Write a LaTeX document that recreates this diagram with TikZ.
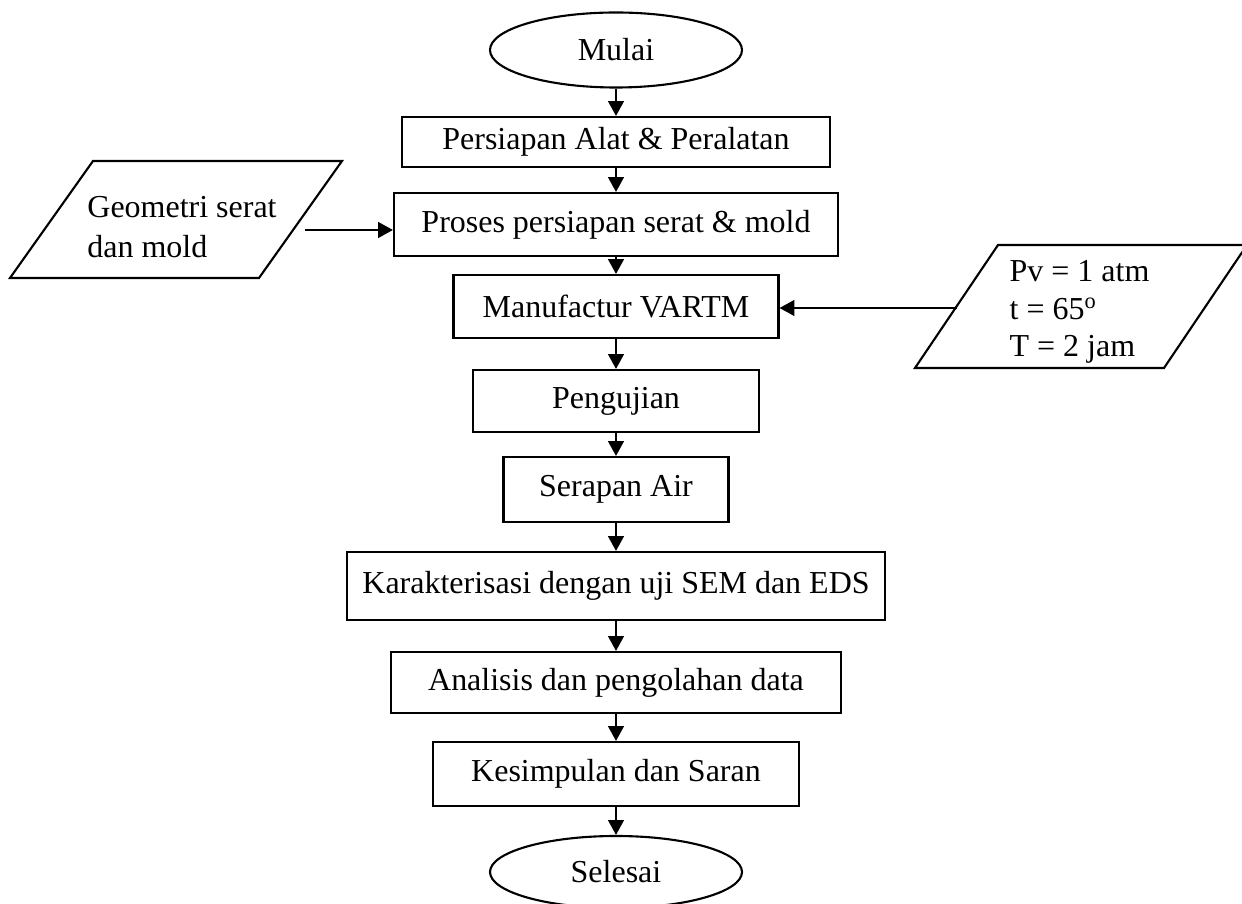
\documentclass[tikz,border=0pt]{standalone}
\usepackage{fontspec}
\setmainfont{Liberation Serif}
\usetikzlibrary{shapes,arrows.meta}

\begin{document}
\begin{tikzpicture}[
    font=\fontsize{18.2}{21}\selectfont,
    line width=1.2pt,
    stepbox/.style={draw, rectangle, minimum height=1.26cm},
    termnode/.style={draw, ellipse, minimum width=5.04cm, minimum height=1.5cm},
    datatext/.style={align=left, inner sep=0pt},
    arr/.style={-{Triangle[length=8.5pt,width=9pt]}}
  ]
  \useasboundingbox (0,0) rectangle (24.84,-18.08);
  \node[termnode] (mulai) at (12.32,-1.0) {Mulai};
  \node[stepbox, minimum width=8.56cm, minimum height=1.0cm] (alat) at (12.32,-2.84) {Persiapan Alat \& Peralatan};
  \node[stepbox, minimum width=8.88cm] (proses) at (12.32,-4.49) {Proses persiapan serat \& mold};
  \node[stepbox, minimum width=6.5cm] (vartm) at (12.32,-6.13) {Manufactur VARTM};
  \node[stepbox, minimum width=5.72cm, minimum height=1.24cm] (uji) at (12.32,-8.02) {Pengujian};
  \node[stepbox, minimum width=4.5cm, minimum height=1.3cm] (serapan) at (12.32,-9.79) {Serapan Air};
  \node[stepbox, minimum width=10.76cm, minimum height=1.36cm] (sem) at (12.32,-11.72) {Karakterisasi dengan uji SEM dan EDS};
  \node[stepbox, minimum width=9.0cm, minimum height=1.22cm] (analisis) at (12.32,-13.65) {Analisis dan pengolahan data};
  \node[stepbox, minimum width=7.32cm, minimum height=1.28cm] (simpul) at (12.32,-15.48) {Kesimpulan dan Saran};
  \node[termnode, minimum height=1.44cm] (selesai) at (12.32,-17.44) {Selesai};
  % input data (parallelograms)
  \node[datatext] (geo) at (3.64,-4.54) {Geometri serat\\[1.8pt]dan mold};
  \draw (0.2,-5.56) -- (5.18,-5.56) -- (6.84,-3.22) -- (1.86,-3.22) -- cycle;
  \node[datatext] (param) at (21.59,-6.24) {Pv = 1 atm\\[0.4pt]t = 65\textsuperscript{o}\\[0.4pt]T = 2 jam};
  \draw (18.3,-7.36) -- (23.28,-7.36) -- (24.94,-4.9) -- (19.96,-4.9) -- cycle;
  \coordinate (geoout) at (6.1,-4.6);
  \coordinate (paramout) at (19.14,-6.16);

  \draw[arr] (mulai) -- (alat);
  \draw[arr] (alat) -- (proses);
  \draw[arr] (proses) -- (vartm);
  \draw[arr] (vartm) -- (uji);
  \draw[arr] (uji) -- (serapan);
  \draw[arr] (serapan) -- (sem);
  \draw[arr] (sem) -- (analisis);
  \draw[arr] (analisis) -- (simpul);
  \draw[arr] (simpul) -- (selesai);
  \draw[arr] (geoout) -- (geoout -| proses.west);
  \draw[arr] (paramout) -- (paramout -| vartm.east);
\end{tikzpicture}
\end{document}
